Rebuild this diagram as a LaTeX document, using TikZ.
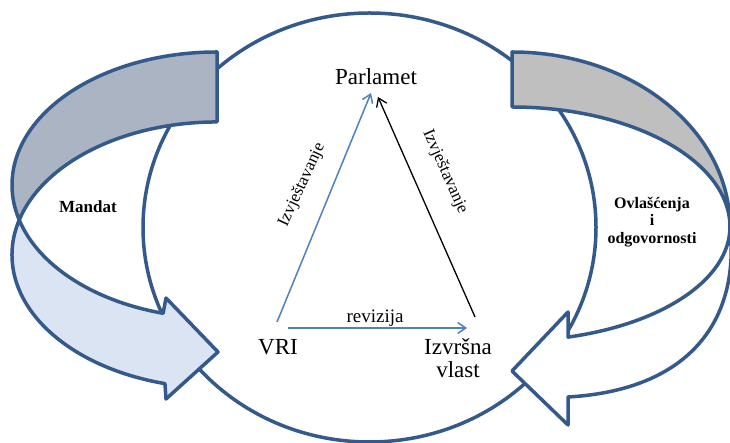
\documentclass[tikz,border=0pt]{standalone}
\usepackage{fontspec}
\setmainfont{Liberation Serif}
\usetikzlibrary{arrows.meta}
\definecolor{outl}{RGB}{52,90,140}
\definecolor{bandA}{RGB}{170,180,195}
\definecolor{bandB}{RGB}{219,228,243}
\definecolor{bandC}{RGB}{191,191,191}
\definecolor{linkblue}{RGB}{79,129,189}
\begin{document}
\begin{tikzpicture}[x=1pt,y=1pt,
  band/.style={draw=outl, line width=3.5pt, line join=round},
  lbl/.style={font=\fontsize{23}{23}\selectfont, inner sep=0pt, align=center},
  smalllbl/.style={font=\fontsize{19}{20}\selectfont, inner sep=0pt},
  rotlbl/.style={font=\fontsize{17}{18}\selectfont, inner sep=0pt},
  boldlbl/.style={font=\fontsize{17}{17.5}\selectfont\bfseries, inner sep=0pt, align=center},
  link/.style={line width=1.5pt, -{Straight Barb[length=8pt,width=11pt]}}]
\clip (0,0) rectangle (730,443);
\fill[white] (0,0) rectangle (730,443);
% central ellipse
\draw[outl, line width=3.5pt] (369.5,215.5) ellipse [x radius=226.5pt, y radius=214.5pt];
% left curved arrow (Mandat)
\draw[band, fill=bandA] (217,391)
  arc[start angle=90, end angle=195.25, x radius=205pt, y radius=133pt]
  arc[start angle=164.75, end angle=90, x radius=205pt, y radius=133pt] -- cycle;
\draw[band, fill=bandB] (19.2,223)
  arc[start angle=164.75, end angle=255.3, x radius=205pt, y radius=133pt]
  -- (166,44) -- (218,91) -- (166,145) -- (163.1,129.7)
  arc[start angle=254.75, end angle=195.25, x radius=205pt, y radius=133pt] -- cycle;
% right curved arrow (Ovlascenja)
\draw[band, fill=bandC] (512,391)
  arc[start angle=90, end angle=0, x radius=218pt, y radius=175pt]
  arc[start angle=0, end angle=90, x radius=218pt, y radius=120pt] -- cycle;
\draw[band, fill=white] (730,216) .. controls (740,123) and (690,53) .. (568,46)
  -- (568,18) -- (512,72) -- (568,131) -- (568,105.9)
  arc[start angle=-75.1, end angle=0, x radius=218pt, y radius=114pt] -- cycle;
% labels
\node[lbl] (parl) at (376,366) {Parlamet};
\node[lbl] (vri) at (278,96) {VRI};
\node[lbl] (izv) at (458,85) {Izvršna\\vlast};
\node[smalllbl] (rev) at (375,125) {revizija};
\node[rotlbl, rotate=65] (izvjL) at (302,258) {Izvještavanje};
\node[rotlbl, rotate=-66] (izvjR) at (445,271) {Izvještavanje};
\node[boldlbl] (mandat) at (88,236) {Mandat};
\node[boldlbl, font=\fontsize{16}{17.5}\selectfont\bfseries] (ovl) at (652,221) {Ovlašćenja\\i\\odgovornosti};
% connector ends
\coordinate (vriT) at (277,121);
\coordinate (vriR) at (288,115);
\coordinate (izvT) at (475,126);
\coordinate (izvW) at (467,115);
\coordinate (parlL) at (371,350);
\coordinate (parlR) at (378,346);
\draw[link, linkblue] (vriT) -- (parlL);
\draw[link, linkblue] (vriR) -- (izvW);
\draw[link, black, line width=1.3pt] (izvT) -- (parlR);
\end{tikzpicture}
\end{document}
